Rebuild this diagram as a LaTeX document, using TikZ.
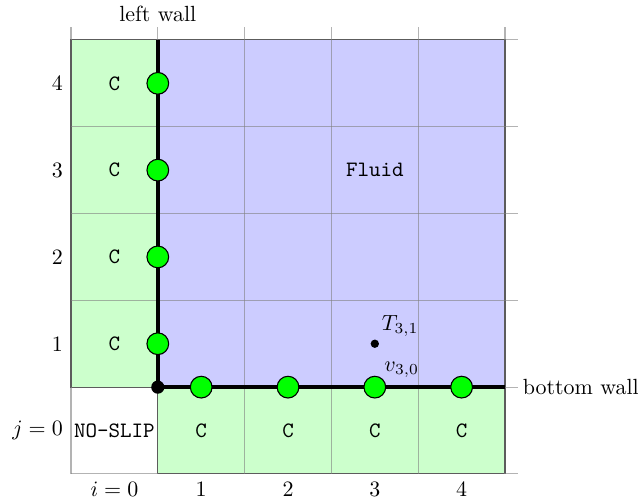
\documentclass[tikz,border=0pt]{standalone}
\begin{document}
\begin{tikzpicture}[x=1.39cm,y=1.39cm,
  gridline/.style={black!50,opacity=0.6,line width=0.5pt},
  border/.style={black!85,line width=0.5pt},
  wallline/.style={black,line width=1.8pt},
  wallpt/.style={circle,fill=green,draw=black,line width=0.5pt,minimum size=9.9pt,inner sep=0pt},
  cdot/.style={circle,fill=black,minimum size=#1,inner sep=0pt},
  cellc/.style={font=\ttfamily},
  lab/.style={inner sep=2pt},
  axlab/.style={inner sep=3.5pt}
]
\useasboundingbox (-1.318,-0.819) rectangle (6.032,4.96);
% fills
\fill[green!20] (-0.5,0.5) rectangle (0.5,4.5);
\fill[green!20] (0.5,-0.5) rectangle (4.5,0.5);
\fill[blue!20] (0.5,0.5) rectangle (4.5,4.5);
% borders
\draw[border] (-0.5,0.5) rectangle (0.5,4.5);
\draw[border] (0.5,-0.5) rectangle (4.5,0.5);
\draw[border] (0.5,0.5) rectangle (4.5,4.5);
% grid
\foreach \k in {-0.5,0.5,1.5,2.5,3.5,4.5} {
  \draw[gridline] (\k,-0.5) -- (\k,4.65);
  \draw[gridline] (-0.5,\k) -- (4.65,\k);
}
% walls
\coordinate (corner) at (0.5,0.5);
\coordinate (lwtop) at (0.5,4.5);
\coordinate (bwend) at (4.5,0.5);
\draw[wallline] (lwtop) -- (corner) -- (bwend);
% wall labels
\node[lab,anchor=south] (lwlab) at (0.5,4.65) {left wall};
\node[lab,anchor=west] (bwlab) at (4.65,0.5) {bottom wall};
% cell texts
\foreach \j in {1,2,3,4} {
  \node[cellc] (cl\j) at (0,\j) {C};
  \node[axlab,anchor=east] (rl\j) at (-0.5,\j) {\j};
}
\foreach \i in {1,2,3,4} {
  \node[cellc] (cb\i) at (\i,0) {C};
  \node[axlab,anchor=north] (cl\i x) at (\i,-0.5) {\i};
}
\node[cellc] (noslip) at (0,0) {NO-SLIP};
\node[cellc] (fluid) at (3,3) {Fluid};
\node[axlab,anchor=east] (j0) at (-0.5,0) {$j=0$};
\node[axlab,anchor=north] (i0) at (0,-0.5) {$i=0$};
% wall points
\node[cdot=6pt] (cdotc) at (corner) {};
\foreach \j in {1,2,3,4} \node[wallpt] (lp\j) at (0.5,\j) {};
\foreach \i in {1,2,3,4} \node[wallpt] (bp\i) at (\i,0.5) {};
\node[cdot=3.8pt] (T31) at (3,1) {};
\node[anchor=south west,inner sep=1.5pt] (T31lab) at (T31.north east) {$T_{3,1}$};
\node[anchor=south west,inner sep=0.5pt] (v30lab) at (bp3.north east) {$v_{3,0}$};
\end{tikzpicture}
\end{document}
